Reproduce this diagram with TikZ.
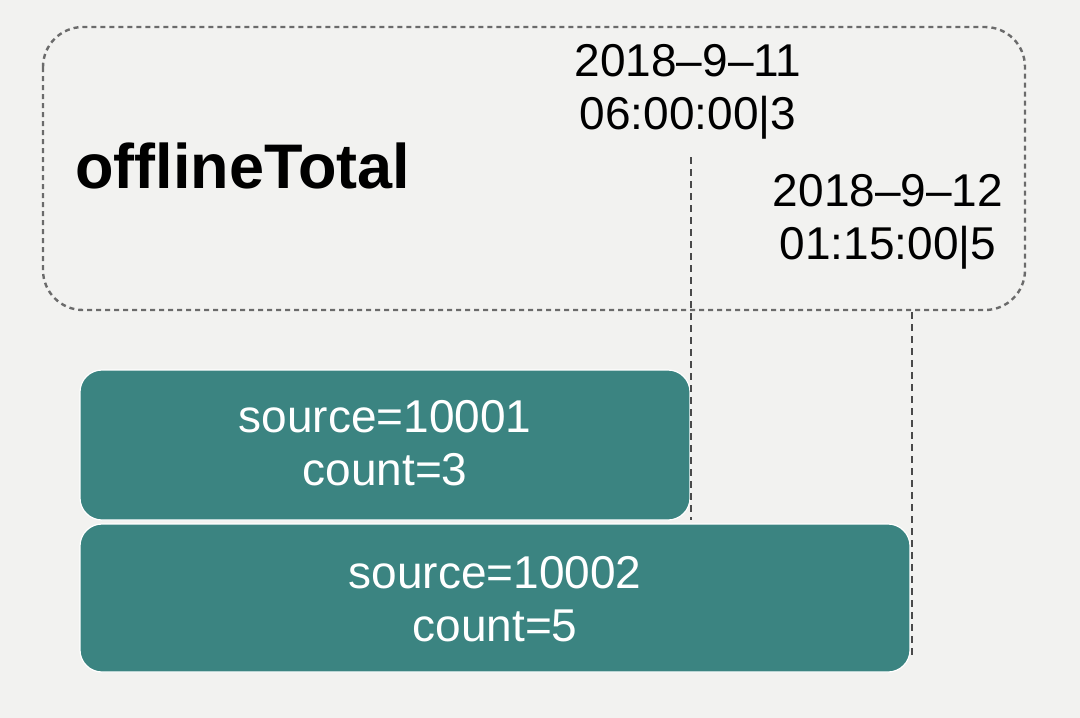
\documentclass[tikz,border=0pt]{standalone}
\usepackage{fontspec}
\setmainfont{Liberation Sans}
\definecolor{bg}{HTML}{F2F2F0}
\definecolor{teal}{HTML}{3B8481}
\definecolor{dgray}{HTML}{6B6B6B}
\definecolor{vgray}{HTML}{4A4A4A}
\begin{document}
\begin{tikzpicture}[x=1pt,y=-1pt,
  frame/.style={draw=dgray,line width=2.4pt,dash pattern=on 5pt off 4pt,rounded corners=40pt},
  rec/.style={fill=teal,draw=white,line width=1.2pt,rounded corners=22pt},
  guide/.style={draw=vgray,line width=2.8pt,dash pattern=on 7pt off 5pt},
  lbl/.style={font=\fontsize{46}{53}\selectfont,align=center,inner sep=0pt},
  wlbl/.style={lbl,text=white}]
\fill[bg] (0,0) rectangle (1080,718);
\useasboundingbox (0,0) rectangle (1080,718);
\draw[frame] (43,27) rectangle (1025,310);
\node[anchor=base west,inner sep=0pt,font=\fontsize{63}{70}\selectfont\bfseries] (title) at (75,188) {offlineTotal};
\node[lbl] (d1) at (688,92) {2018–9–11\\06:00:00|3};
\node[lbl] (d2) at (888,222) {2018–9–12\\01:15:00|5};
\draw[rec] (80,370) rectangle (690,520);
\draw[rec] (80,524) rectangle (910,672);
\node[wlbl] (s1) at (385,443) {source=10001\\count=3};
\node[wlbl] (s2) at (495,599) {source=10002\\count=5};
\coordinate (g1a) at (691,157);
\coordinate (g1b) at (691,520);
\coordinate (g2a) at (912,312);
\coordinate (g2b) at (912,655);
\draw[guide] (g1a) -- (g1b);
\draw[guide] (g2a) -- (g2b);
\end{tikzpicture}
\end{document}
